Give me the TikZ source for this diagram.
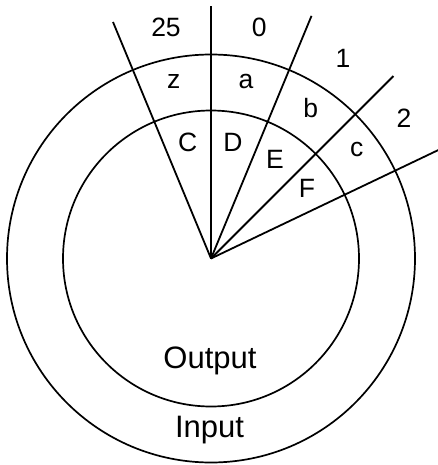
\documentclass[tikz,border=0pt]{standalone}
\usepackage{fontspec}
\setmainfont{Liberation Sans}
\begin{document}
\begin{tikzpicture}[x=1pt,y=-1pt,
  ring/.style={draw=black,line width=1.7pt},
  spoke/.style={draw=black,line width=1.8pt},
  lab/.style={inner sep=0pt,anchor=base,font=\fontsize{26.5}{30}\selectfont},
  big/.style={inner sep=0pt,anchor=base,font=\fontsize{31}{36}\selectfont}]
\useasboundingbox (0,0) rectangle (438,465);
\coordinate (O) at (211,258.5);
\coordinate (e1) at (113.0,22.0);
\coordinate (e2) at (211,6);
\coordinate (e3) at (311.5,15.9);
\coordinate (e4) at (393.4,76.1);
\coordinate (e5) at (438.4,150);
\draw[ring] (O) circle[radius=204];
\draw[ring] (O) circle[radius=148];
\foreach \e in {e1,e2,e3,e4,e5} \draw[spoke] (O) -- (\e);
% outer numbers
\node[lab] (n25) at (166,37) {25};
\node[lab] (n0) at (259.3,37) {0};
\node[lab] (n1) at (343,67.5) {1};
\node[lab] (n2) at (404,127.5) {2};
% input letters
\node[lab] (lz) at (173.7,89) {z};
\node[lab] (la) at (246,89) {a};
\node[lab] (lb) at (310.7,117.5) {b};
\node[lab] (lc) at (356.7,157) {c};
% output letters
\node[lab] (lC) at (187.7,151.2) {C};
\node[lab] (lD) at (233,151.5) {D};
\node[lab] (lE) at (275,168.2) {E};
\node[lab] (lF) at (307,197) {F};
\node[big] (out) at (210,368) {Output};
\node[big] (in) at (209.5,437.8) {Input};
\end{tikzpicture}
\end{document}
